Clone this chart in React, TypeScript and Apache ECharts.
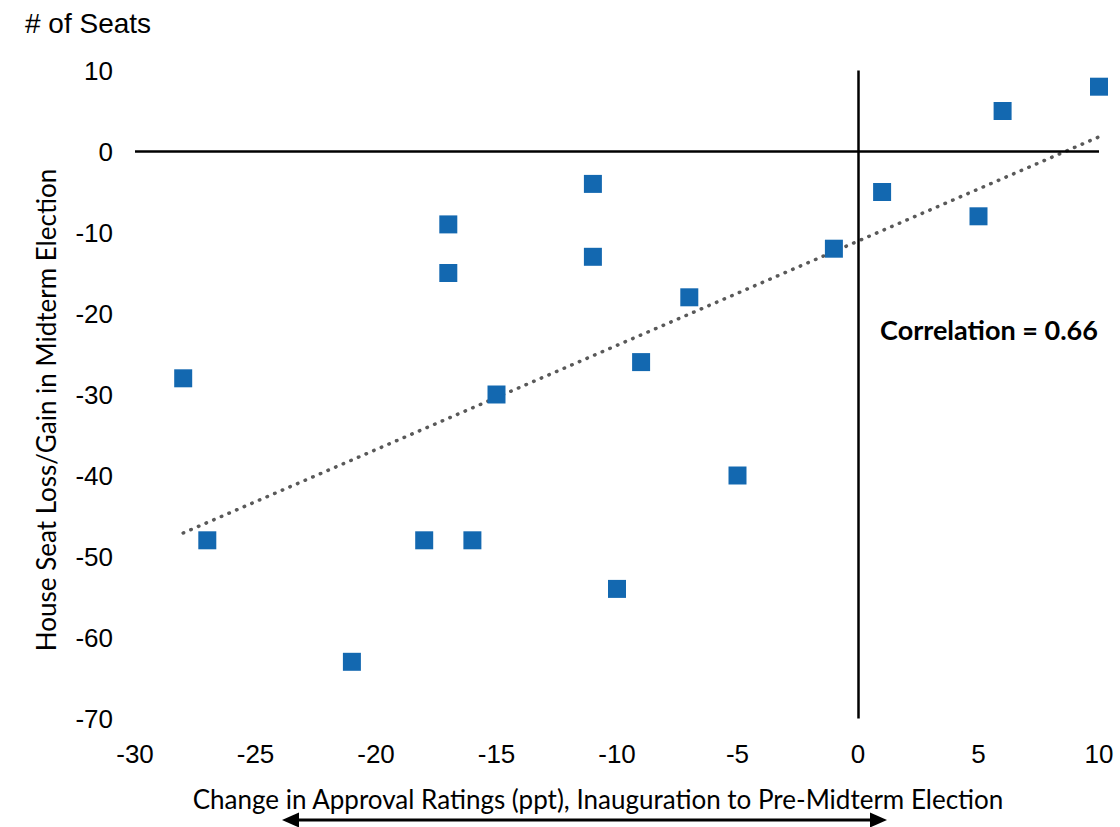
import React, { useEffect, useRef } from "react";
import * as echarts from "echarts";

const approvalChange: number[] = [-28, -27, -21, -18, -17, -17, -16, -15, -11, -11, -10, -9, -7, -5, -1, 1, 5, 6, 10];
const seatChange: number[] = [-28, -48, -63, -48, -9, -15, -48, -30, -4, -13, -54, -26, -18, -40, -12, -5, -8, 5, 8];
const xTicks = { min: -30, max: 10, interval: 5 };
const yTicks = { min: -70, max: 10, interval: 10 };
const yAxisTitle = "# of Seats";
const yName = "House Seat Loss/Gain in Midterm Election";
const xName = "Change in Approval Ratings (ppt), Inauguration to Pre-Midterm Election";
const corrLabel = "Correlation = 0.66";

function regression(xs: number[], ys: number[]) {
  const n = xs.length;
  const mx = xs.reduce((a, b) => a + b, 0) / n;
  const my = ys.reduce((a, b) => a + b, 0) / n;
  let sxy = 0;
  let sxx = 0;
  for (let i = 0; i < n; i++) {
    sxy += (xs[i] - mx) * (ys[i] - my);
    sxx += (xs[i] - mx) * (xs[i] - mx);
  }
  const slope = sxy / sxx;
  return { slope, intercept: my - slope * mx };
}

export default function App() {
  const ref = useRef<HTMLDivElement>(null);
  useEffect(() => {
    if (!ref.current) return;
    const chart = echarts.init(ref.current, undefined, { renderer: "svg" });
    const points = approvalChange.map((x, i) => [x, seatChange[i]]);
    const { slope, intercept } = regression(approvalChange, seatChange);
    const x0 = Math.min(...approvalChange);
    const x1 = Math.max(...approvalChange);
    const trend = [
      [x0, slope * x0 + intercept],
      [x1, slope * x1 + intercept],
    ];
    const titleFont = "Lato, 'Open Sans', sans-serif";
    const tickFont = "'Liberation Sans', Arial, sans-serif";
    chart.setOption({
      animation: false,
      backgroundColor: "#ffffff",
      grid: { left: 135, right: 21, top: 70.5, bottom: 108.5, containLabel: false },
      xAxis: {
        type: "value",
        min: xTicks.min,
        max: xTicks.max,
        interval: xTicks.interval,
        axisLine: { show: false },
        axisTick: { show: false },
        splitLine: { show: false },
        axisLabel: { color: "#000", fontFamily: tickFont, fontSize: 26, margin: 22 },
      },
      yAxis: {
        type: "value",
        min: yTicks.min,
        max: yTicks.max,
        interval: yTicks.interval,
        axisLine: { show: false },
        axisTick: { show: false },
        splitLine: { show: false },
        axisLabel: { color: "#000", fontFamily: tickFont, fontSize: 26, margin: 22 },
      },
      series: [
        {
          type: "line",
          data: trend,
          symbol: "none",
          silent: true,
          lineStyle: { color: "#595959", width: 3.5, type: [0.5, 7.8], cap: "round" },
          z: 2,
        },
        {
          type: "scatter",
          data: points,
          symbol: "rect",
          symbolSize: 18,
          itemStyle: { color: "#1368B0", opacity: 1 },
          z: 3,
          markLine: {
            silent: true,
            symbol: "none",
            label: { show: false },
            lineStyle: { color: "#000", width: 2.5, type: "solid", opacity: 1 },
            data: [{ xAxis: 0 }, { yAxis: 0 }],
          },
        },
      ],
      graphic: [
        {
          type: "text",
          left: 25,
          top: 9,
          style: { text: yAxisTitle, fontFamily: tickFont, fontSize: 28, fill: "#000" },
        },
        {
          type: "text",
          x: 46,
          y: 410,
          rotation: Math.PI / 2,
          style: {
            text: yName,
            fontFamily: titleFont,
            fontSize: 26,
            fill: "#000",
            align: "center",
            verticalAlign: "middle",
          },
        },
        {
          type: "text",
          x: 598,
          y: 799,
          style: {
            text: xName,
            fontFamily: titleFont,
            fontSize: 26,
            fill: "#000",
            align: "center",
            verticalAlign: "middle",
          },
        },
        {
          type: "text",
          x: 989,
          y: 329,
          style: {
            text: corrLabel,
            fontFamily: titleFont,
            fontSize: 27,
            fontWeight: "bold",
            fill: "#000",
            align: "center",
            verticalAlign: "middle",
          },
        },
        {
          type: "line",
          shape: { x1: 296, y1: 820, x2: 873, y2: 820 },
          style: { stroke: "#000", lineWidth: 3 },
        },
        {
          type: "polygon",
          shape: { points: [[282, 820], [299, 812.5], [299, 827.5]] },
          style: { fill: "#000" },
        },
        {
          type: "polygon",
          shape: { points: [[887, 820], [870, 812.5], [870, 827.5]] },
          style: { fill: "#000" },
        },
      ],
    });
    return () => chart.dispose();
  }, []);
  return (
    <div
      ref={ref}
      style={{ position: "fixed", left: 0, top: 0, width: 1120, height: 827, background: "#fff" }}
    />
  );
}
